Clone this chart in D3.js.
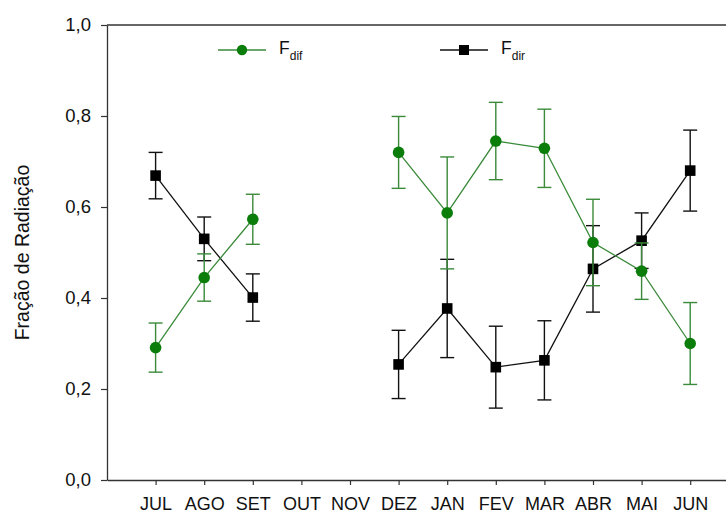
<!DOCTYPE html>
<html>
<head>
<meta charset="utf-8">
<script src="https://cdn.jsdelivr.net/npm/d3@7"></script>
<style>
  body { margin: 0; background: #fff; }
  text { font-family: Arial, "Liberation Sans", sans-serif; }
</style>
</head>
<body>
<div id="chart"></div>
<script>
const months = ["JUL", "AGO", "SET", "OUT", "NOV", "DEZ", "JAN", "FEV", "MAR", "ABR", "MAI", "JUN"];
// null = sem medida
const fdif = [0.291, 0.445, 0.573, null, null, 0.720, 0.587, 0.745, 0.729, 0.522, 0.459, 0.300];
const fdifErr = [0.054, 0.052, 0.055, null, null, 0.079, 0.123, 0.085, 0.086, 0.095, 0.062, 0.090];
const fdir = [0.669, 0.530, 0.401, null, null, 0.254, 0.377, 0.248, 0.263, 0.464, 0.526, 0.680];
const fdirErr = [0.051, 0.048, 0.052, null, null, 0.075, 0.108, 0.090, 0.087, 0.095, 0.061, 0.089];
const yTicks = [0, 0.2, 0.4, 0.6, 0.8, 1.0];

const width = 726, height = 515;
const margin = {left: 107, top: 25, bottom: 35};

const svg = d3.select("#chart").append("svg")
    .attr("width", width)
    .attr("height", height);

const x = d3.scaleLinear().domain([-1, 12]).range([margin.left, margin.left + 13 * 48.6]);
const y = d3.scaleLinear().domain([0, 1]).range([height - margin.bottom, margin.top]);

const axisColor = "#333";
const green = "#0b7d0b";
const greenLine = "#3a8a3a";

// eixos
const xAxis = svg.append("g")
    .attr("transform", `translate(0,${y(0)})`)
    .call(d3.axisBottom(x).tickValues(d3.range(12)).tickFormat(i => months[i]).tickSize(5).tickSizeOuter(0));
xAxis.select(".domain").attr("stroke", axisColor).attr("stroke-width", 1.3);
xAxis.selectAll(".tick line").attr("stroke", axisColor).attr("stroke-width", 1.2);
xAxis.selectAll(".tick text").attr("font-size", 18).attr("fill", "#111").attr("y", 30).attr("dy", 0);

const yAxis = svg.append("g")
    .attr("transform", `translate(${margin.left},0)`)
    .call(d3.axisLeft(y).tickValues(yTicks).tickFormat(d => d3.format(".1f")(d).replace(".", ",")).tickSize(6).tickSizeOuter(0));
yAxis.select(".domain").attr("stroke", axisColor).attr("stroke-width", 1.3);
yAxis.selectAll(".tick line").attr("stroke", axisColor).attr("stroke-width", 1.2);
yAxis.selectAll(".tick text").attr("font-size", 18.5).attr("fill", "#111").attr("x", -16);

// linha superior
svg.append("line")
    .attr("x1", x(-1)).attr("x2", width)
    .attr("y1", y(1)).attr("y2", y(1))
    .attr("stroke", axisColor).attr("stroke-width", 1.3);

svg.append("text")
    .attr("transform", `translate(29,${(y(0) + y(1)) / 2}) rotate(-90)`)
    .attr("text-anchor", "middle")
    .attr("font-size", 19.5)
    .attr("fill", "#111")
    .text("Fração de Radiação");

function drawSeries(vals, errs, lineColor, markColor, shape) {
    const pts = vals.map((v, i) => ({i, v, e: errs[i]}));
    const g = svg.append("g");
    const line = d3.line()
        .defined(d => d.v !== null)
        .x(d => x(d.i))
        .y(d => y(d.v));
    g.append("path")
        .datum(pts)
        .attr("d", line)
        .attr("fill", "none")
        .attr("stroke", lineColor)
        .attr("stroke-width", 1.3);

    const valid = pts.filter(d => d.v !== null);
    const eb = g.selectAll(".err").data(valid).join("g").attr("stroke", lineColor).attr("stroke-width", 1.4);
    eb.append("line")
        .attr("x1", d => x(d.i)).attr("x2", d => x(d.i))
        .attr("y1", d => y(d.v - d.e)).attr("y2", d => y(d.v + d.e));
    eb.append("line")
        .attr("x1", d => x(d.i) - 7).attr("x2", d => x(d.i) + 7)
        .attr("y1", d => y(d.v - d.e)).attr("y2", d => y(d.v - d.e));
    eb.append("line")
        .attr("x1", d => x(d.i) - 7).attr("x2", d => x(d.i) + 7)
        .attr("y1", d => y(d.v + d.e)).attr("y2", d => y(d.v + d.e));

    if (shape === "circle") {
        g.selectAll("circle").data(valid).join("circle")
            .attr("cx", d => x(d.i)).attr("cy", d => y(d.v))
            .attr("r", 5.8).attr("fill", markColor);
    } else {
        g.selectAll("rect").data(valid).join("rect")
            .attr("x", d => x(d.i) - 5.3).attr("y", d => y(d.v) - 5.3)
            .attr("width", 10.6).attr("height", 10.6).attr("fill", markColor);
    }
}

drawSeries(fdir, fdirErr, "#111", "#000", "square");
drawSeries(fdif, fdifErr, greenLine, green, "circle");

// legenda
const legend = [
    {label: "F", sub: "dif", x0: 218, color: greenLine, mark: green, shape: "circle"},
    {label: "F", sub: "dir", x0: 440, color: "#111", mark: "#000", shape: "square"}
];
const ly = 50;
legend.forEach(l => {
    const g = svg.append("g");
    g.append("line").attr("x1", l.x0).attr("x2", l.x0 + 48).attr("y1", ly).attr("y2", ly)
        .attr("stroke", l.color).attr("stroke-width", 1.3);
    if (l.shape === "circle") {
        g.append("circle").attr("cx", l.x0 + 24).attr("cy", ly).attr("r", 5.2).attr("fill", l.mark);
    } else {
        g.append("rect").attr("x", l.x0 + 24 - 5).attr("y", ly - 5).attr("width", 10).attr("height", 10).attr("fill", l.mark);
    }
    const t = g.append("text").attr("x", l.x0 + 61).attr("y", ly + 4).attr("font-size", 17.5).attr("fill", "#111");
    t.append("tspan").text(l.label);
    t.append("tspan").attr("font-size", 12).attr("dy", 6).text(l.sub);
});
</script>
</body>
</html>
